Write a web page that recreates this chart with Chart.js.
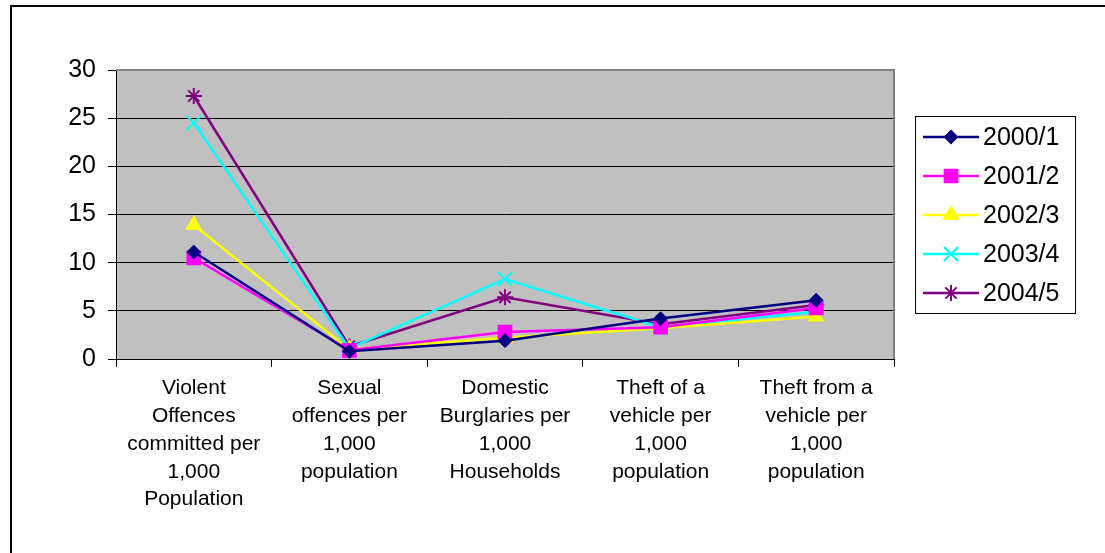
<!DOCTYPE html>
<html>
<head>
<meta charset="utf-8">
<script src="https://cdn.jsdelivr.net/npm/chart.js@4/dist/chart.umd.min.js"></script>
<style>
  html, body { margin: 0; padding: 0; background: #fff; }
  #wrap { width: 1105px; height: 553px; position: relative; }
</style>
</head>
<body>
<div id="wrap"><canvas id="crime-chart"></canvas></div>
<script>
// categories (multi-line labels as shown under the axis)
const categories = [
    ["Violent", "Offences", "committed per", "1,000", "Population"],
    ["Sexual", "offences per", "1,000", "population"],
    ["Domestic", "Burglaries per", "1,000", "Households"],
    ["Theft of a", "vehicle per", "1,000", "population"],
    ["Theft from a", "vehicle per", "1,000", "population"],
];

const seriesNames = ["2000/1", "2001/2", "2002/3", "2003/4", "2004/5"];

const values2000 = [11.1, 0.8, 1.9, 4.2, 6.1];
const values2001 = [10.5, 0.9, 2.8, 3.3, 5.3];
const values2002 = [13.9, 1.0, 2.2, 3.2, 4.4];
const values2003 = [24.5, 1.1, 8.3, 3.3, 4.9];
const values2004 = [27.3, 1.3, 6.4, 3.6, 5.6];

const yTicks = [0, 5, 10, 15, 20, 25, 30];

const FONT = "'Liberation Sans', Arial, sans-serif";

const styles = [
    { color: "#000080", point: "rectRot", radius: 6, fill: true },
    { color: "#FF00FF", point: "rect", radius: 9, fill: true },
    { color: "#FFFF00", point: "triangle", radius: 8, fill: true },
    { color: "#00FFFF", point: "crossRot", radius: 10, fill: false },
    { color: "#800080", point: "star", radius: 8, fill: false },
];

const allValues = [values2000, values2001, values2002, values2003, values2004];

const datasets = allValues.map((vals, i) => ({
    label: seriesNames[i],
    data: vals,
    borderColor: styles[i].color,
    backgroundColor: styles[i].color,
    borderWidth: 2.5,
    pointStyle: styles[i].point,
    pointRadius: styles[i].radius,
    pointHoverRadius: styles[i].radius,
    pointBorderWidth: 2,
    pointBackgroundColor: styles[i].color,
    pointBorderColor: styles[i].color,
    tension: 0,
}));

// grey plot background + outer frame
const plotBackground = {
    id: "plotBackground",
    beforeDraw(chart) {
        const { ctx, chartArea: a } = chart;
        ctx.save();
        ctx.fillStyle = "#fff";
        ctx.fillRect(0, 0, chart.width, chart.height);
        ctx.strokeStyle = "#000";
        ctx.lineWidth = 2;
        ctx.strokeRect(11, 6, 1300, 700);
        ctx.fillStyle = "#C0C0C0";
        ctx.fillRect(a.left, a.top, a.right - a.left, a.bottom - a.top);
        ctx.restore();
    },
    beforeDatasetsDraw(chart) {
        const { ctx, chartArea: a } = chart;
        ctx.save();
        ctx.strokeStyle = "#808080";
        ctx.lineWidth = 2;
        ctx.beginPath();
        ctx.moveTo(a.left, a.top);
        ctx.lineTo(a.right, a.top);
        ctx.lineTo(a.right, a.bottom);
        ctx.stroke();
        ctx.restore();
    },
};

// legend box on the right, line + marker + text
const boxLegend = {
    id: "boxLegend",
    afterDraw(chart) {
        const ctx = chart.ctx;
        ctx.save();
        ctx.strokeStyle = "#000";
        ctx.lineWidth = 1;
        ctx.strokeRect(915.5, 116.5, 160, 197);
        seriesNames.forEach((name, i) => {
            const y = 137 + i * 39;
            const s = styles[i];
            ctx.strokeStyle = s.color;
            ctx.lineWidth = 2.5;
            ctx.beginPath();
            ctx.moveTo(923, y);
            ctx.lineTo(979, y);
            ctx.stroke();
            ctx.fillStyle = s.color;
            ctx.lineWidth = 2;
            Chart.helpers.drawPoint(ctx, {
                pointStyle: s.point,
                radius: s.radius,
                rotation: 0,
                borderWidth: 2,
            }, 951, y);
            ctx.fillStyle = "#000";
            ctx.font = "25px " + FONT;
            ctx.textBaseline = "middle";
            ctx.textAlign = "left";
            ctx.fillText(name, 983, y + 1);
        });
        ctx.restore();
    },
};

new Chart(document.getElementById("crime-chart"), {
    type: "line",
    data: { labels: categories, datasets: datasets },
    options: {
        responsive: true,
        maintainAspectRatio: false,
        animation: false,
        events: [],
        layout: { padding: { top: 70, right: 211, bottom: 0, left: 0 } },
        plugins: {
            legend: { display: false },
            tooltip: { enabled: false },
        },
        scales: {
            x: {
                offset: true,
                afterFit(scale) { scale.height = 194; },
                grid: {
                    offset: true,
                    drawOnChartArea: false,
                    drawTicks: true,
                    tickLength: 8,
                    color: "#000",
                },
                border: { color: "#000", width: 1 },
                ticks: {
                    color: "#000",
                    padding: 7,
                    maxRotation: 0,
                    autoSkip: false,
                    font: { family: FONT, size: 21, lineHeight: 1.33 },
                },
            },
            y: {
                min: 0,
                max: 30,
                afterFit(scale) { scale.width = 116; },
                afterBuildTicks(scale) { scale.ticks = yTicks.map(v => ({ value: v })); },
                grid: { color: "#000", lineWidth: 1, tickLength: 8 },
                border: { color: "#000", width: 1 },
                ticks: {
                    color: "#000",
                    padding: 12,
                    font: { family: FONT, size: 25 },
                },
            },
        },
    },
    plugins: [plotBackground, boxLegend],
});
</script>
</body>
</html>
